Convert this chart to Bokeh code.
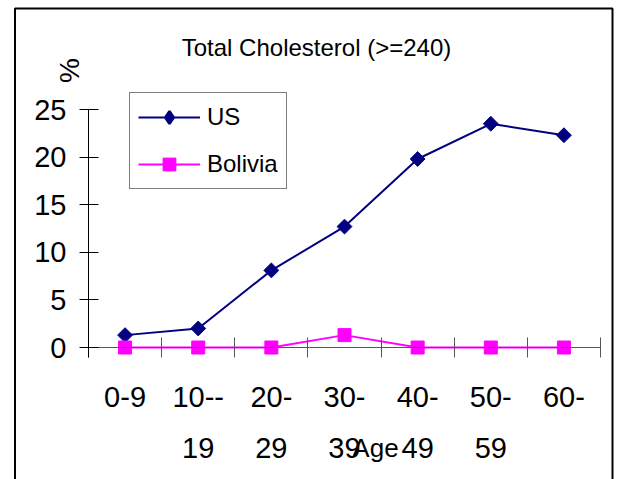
import numpy as np
from bokeh.plotting import figure
from bokeh.models import (Range1d, FixedTicker, Label, Legend, LegendItem, BoxAnnotation)
from bokeh.embed import file_html
from bokeh.resources import INLINE

# ---- data ----
categories = ["0-9", "10--19", "20-29", "30-39", "40-49", "50-59", "60-"]
tick_labels = ["0-9", "10--\n19", "20-\n29", "30-\n39", "40-\n49", "50-\n59", "60-"]
us_values = [1.3, 2.0, 8.1, 12.7, 19.8, 23.5, 22.3]
bolivia_values = [0.0, 0.0, 0.0, 1.3, 0.0, 0.0, 0.0]
y_ticks = [0, 5, 10, 15, 20, 25]

FONT = "Liberation Sans"
W, H = 617, 479
n = len(categories)
xc = [i + 0.5 for i in range(n)]

# pixel layout of the plotting area (frame covers whole canvas)
X0, X1 = 88.0, 600.0       # pixel x of category 0 start / category n end
Y0PX, PXU = 347.0, 9.52    # pixel y of value 0, pixels per unit
sx = (X1 - X0) / n


def X(px):
    return (px - X0) / sx


def Y(py):
    return (Y0PX - py) / PXU


p = figure(width=W, height=H, output_backend="svg", toolbar_location=None,
           x_range=Range1d(X(0), X(W)), y_range=Range1d(Y(H), Y(0)), min_border=0)
p.title.visible = False
p.outline_line_color = None
p.xgrid.visible = False
p.ygrid.visible = False
p.background_fill_color = "white"
p.border_fill_color = "white"

# y axis
ya = p.yaxis[0]
ya.fixed_location = 0
ya.ticker = FixedTicker(ticks=y_ticks)
ya.bounds = (-1.05, 25)
ya.axis_line_color = "black"
ya.major_tick_line_color = "black"
ya.major_tick_in = 10
ya.major_tick_out = 9
ya.minor_tick_line_color = None
ya.major_label_text_font = FONT
ya.major_label_text_font_size = "29px"
ya.major_label_text_color = "black"
ya.major_label_standoff = 13

# x axis
xa = p.xaxis[0]
xa.fixed_location = 0
xa.ticker = FixedTicker(ticks=xc, minor_ticks=list(range(n + 1)))
xa.major_label_overrides = {x: lab for x, lab in zip(xc, tick_labels)}
xa.bounds = (0, n)
xa.axis_line_color = "#555555"
xa.major_tick_line_color = None
xa.major_tick_in = 0
xa.major_tick_out = 10
xa.minor_tick_line_color = "#555555"
xa.minor_tick_in = 10
xa.minor_tick_out = 10
xa.major_label_text_font = FONT
xa.major_label_text_font_size = "29px"
xa.major_label_text_color = "black"
xa.major_label_text_line_height = 1.6
xa.major_label_standoff = 23

# series
l1 = p.line(xc, us_values, line_color="#000080", line_width=2)
m1 = p.scatter(xc, us_values, marker="square", angle=np.pi / 4, size=10.5,
               fill_color="#000080", line_color="#000080")
# legend swatch for the US diamond (kept off-canvas)
k1 = p.scatter([-100], [-100], marker="diamond", fill_color="#000080",
               line_color="#000080", line_width=2.5)
l2 = p.line(xc, bolivia_values, line_color="#FF00FF", line_width=2)
m2 = p.scatter(xc, bolivia_values, marker="square", size=13,
               fill_color="#FF00FF", line_color="#FF00FF")

legend = Legend(items=[LegendItem(label="US", renderers=[l1, k1]),
                       LegendItem(label="Bolivia", renderers=[l2, m2])],
                location=(129, H - 189))
legend.label_text_font = FONT
legend.label_text_font_size = "24px"
legend.label_text_color = "black"
legend.glyph_width = 62
legend.glyph_height = 32
legend.label_height = 32
legend.spacing = 15
legend.padding = 8
legend.margin = 0
legend.label_standoff = 7
legend.border_line_color = "black"
legend.border_line_width = 1
legend.background_fill_color = "white"
p.add_layout(legend, "center")

# title
p.add_layout(Label(x=X(316), y=Y(47), text="Total Cholesterol (>=240)",
                   text_font=FONT, text_font_size="24px", text_align="center",
                   text_baseline="middle", text_color="black"))
# y-axis label
p.add_layout(Label(x=X(69), y=Y(70), text="%", angle=np.pi / 2,
                   text_font=FONT, text_font_size="28px", text_align="center",
                   text_baseline="middle", text_color="black"))
# x-axis label
p.add_layout(Label(x=X(375), y=Y(447), text="Age",
                   text_font=FONT, text_font_size="26px", text_align="center",
                   text_baseline="middle", text_color="black"))
# chart border
p.add_layout(BoxAnnotation(left=X(14.5), right=X(612), top=Y(8), bottom=Y(H + 20),
                           fill_alpha=0, line_color="black", line_alpha=1, line_width=2))

open("out.html", "w").write(file_html(p, INLINE))
